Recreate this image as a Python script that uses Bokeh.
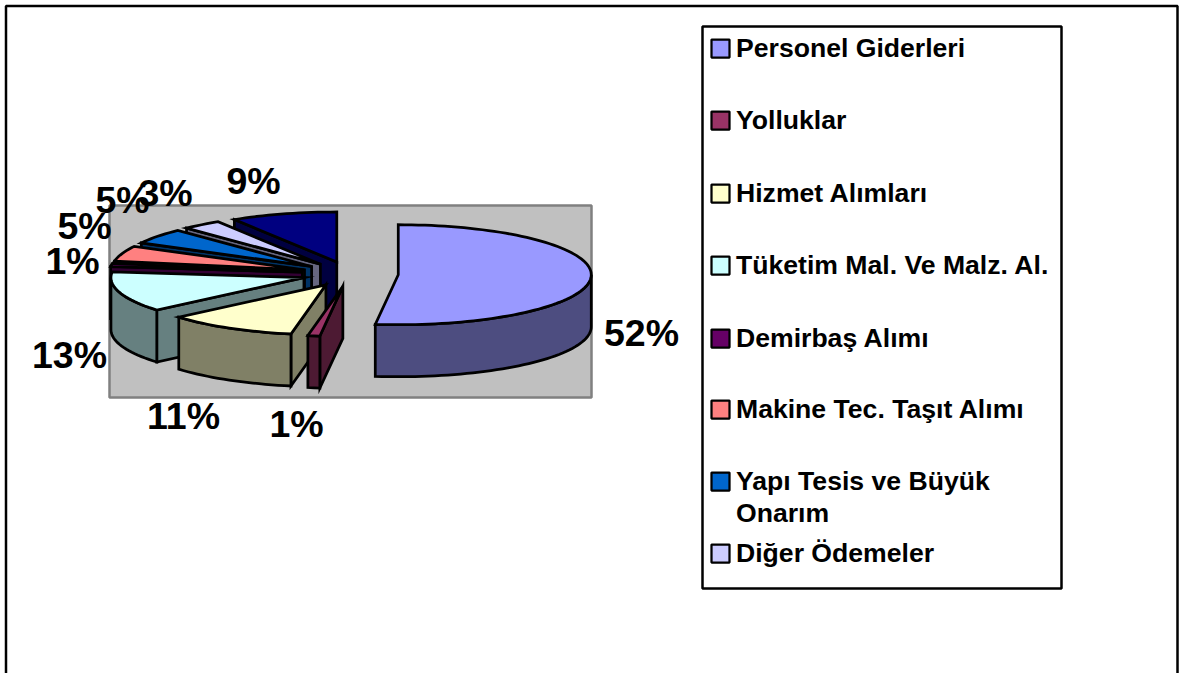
import math
from bokeh.embed import file_html
from bokeh.resources import INLINE
from bokeh.plotting import figure
from bokeh.models import Range1d
from bokeh.core.properties import value

categories = ["Personel Giderleri", "Yolluklar", "Hizmet Alımları", "Tüketim Mal. Ve Malz. Al.",
              "Demirbaş Alımı", "Makine Tec. Taşıt Alımı", "Yapı Tesis ve Büyük Onarım", "Diğer Ödemeler", "Diğer"]
shares = [51.9, 1.0, 10.9, 13.0, 1.0, 5.0, 5.0, 3.3, 8.9]
top_colors = ["#9999FF", "#993366", "#FFFFCC", "#CCFFFF", "#660066", "#FF8080", "#0066CC", "#CCCCFF", "#000080"]
side_colors = ["#4D4D80", "#4D1A33", "#808066", "#668080", "#330033", "#804040", "#003366", "#666680", "#000040"]
percent_labels = ["52%", "1%", "11%", "13%", "1%", "5%", "5%", "3%", "9%"]

# layout (page pixels)
label_xy = [(641, 333), (296, 424), (183, 416), (69, 355), (72, 261), (84, 226), (122, 200), (165, 193), (253, 181)]
legend_rows = [("Personel Giderleri", 48, 0), ("Yolluklar", 120, 1), ("Hizmet Alımları", 193, 2),
               ("Tüketim Mal. Ve Malz. Al.", 265, 3), ("Demirbaş Alımı", 338, 4),
               ("Makine Tec. Taşıt Alımı", 409, 5), ("Yapı Tesis ve Büyük", 481, 6),
               ("Onarım", 513, None), ("Diğer Ödemeler", 553, 7)]
CX, CY, RX, RY, DEPTH, EXPLODE = 349.6, 273.5, 193.0, 50.0, 52.0, 0.25
FONT = "Liberation Sans"

p = figure(width=1183, height=673, output_backend="svg", toolbar_location=None,
           x_range=Range1d(0, 1183), y_range=Range1d(673, 0), min_border=0)
p.axis.visible = False
p.grid.visible = False
p.outline_line_color = None
p.background_fill_color = "white"

# outer frame
p.line([5.5, 5.5, 1177, 1177], [680, 5.5, 5.5, 680], line_color="black", line_width=2.5)
# plot area
p.quad(left=[109], right=[591], top=[205], bottom=[397], fill_color="#C0C0C0", line_color="#808080", line_width=2.5)


def rim(cx, cy, deg):
    t = math.radians(deg)
    return cx + RX * math.sin(t), cy - RY * math.cos(t)


total = sum(shares)
start = 0.0
slices = []
for i, v in enumerate(shares):
    sweep = 360.0 * v / total
    slices.append((i, start, start + sweep))
    start += sweep


def mid_key(s):
    m = math.radians((s[1] + s[2]) / 2)
    return -math.cos(m)


def poly(xs, ys, color):
    p.patch(xs, ys, fill_color=color, line_color="black", line_width=2.75, line_join="miter")


for i, a, b in sorted(slices, key=mid_key):
    m = math.radians((a + b) / 2)
    cx = CX + EXPLODE * RX * math.sin(m)
    cy = CY - EXPLODE * RY * math.cos(m)
    n = max(3, int((b - a) / 2) + 2)
    angles = [a + (b - a) * k / (n - 1) for k in range(n)]
    side = side_colors[i]
    # radial faces that look toward the viewer
    for deg, visible in ((a, math.sin(math.radians(a)) < -1e-6), (b, math.sin(math.radians(b)) > 1e-6)):
        if visible:
            x, y = rim(cx, cy, deg)
            poly([cx, x, x, cx], [cy, y, y + DEPTH, cy + DEPTH], side)
    # outer wall
    lo, hi = max(a, 90.0), min(b, 270.0)
    if hi > lo:
        k = max(3, int((hi - lo) / 2) + 2)
        arc = [lo + (hi - lo) * j / (k - 1) for j in range(k)]
        pts = [rim(cx, cy, d) for d in arc]
        xs = [q[0] for q in pts]
        ys = [q[1] for q in pts]
        poly(xs + xs[::-1], ys + [q + DEPTH for q in ys[::-1]], side)
    # top
    pts = [rim(cx, cy, d) for d in angles]
    poly([cx] + [q[0] for q in pts], [cy] + [q[1] for q in pts], top_colors[i])

# percentage labels
for txt, (x, y) in zip(percent_labels, label_xy):
    p.text([x], [y - 0.5], text=[txt], text_font=value(FONT), text_font_style="bold", text_font_size="37.5px",
           text_align="center", text_baseline="middle", text_color="black")

# legend
p.quad(left=[702], right=[1061], top=[26], bottom=[588], fill_color="white", line_color="black", line_width=2.5)
for label, y, idx in legend_rows:
    if idx is not None:
        p.quad(left=[711], right=[729], top=[y - 9], bottom=[y + 9], fill_color=top_colors[idx],
               line_color="black", line_width=2.25)
    p.text([735.5], [y - 0.5], text=[label], text_font=value(FONT), text_font_style="bold", text_font_size="26.6px",
           text_align="left", text_baseline="middle", text_color="black")

open("out.html", "w").write(file_html(p, INLINE))
